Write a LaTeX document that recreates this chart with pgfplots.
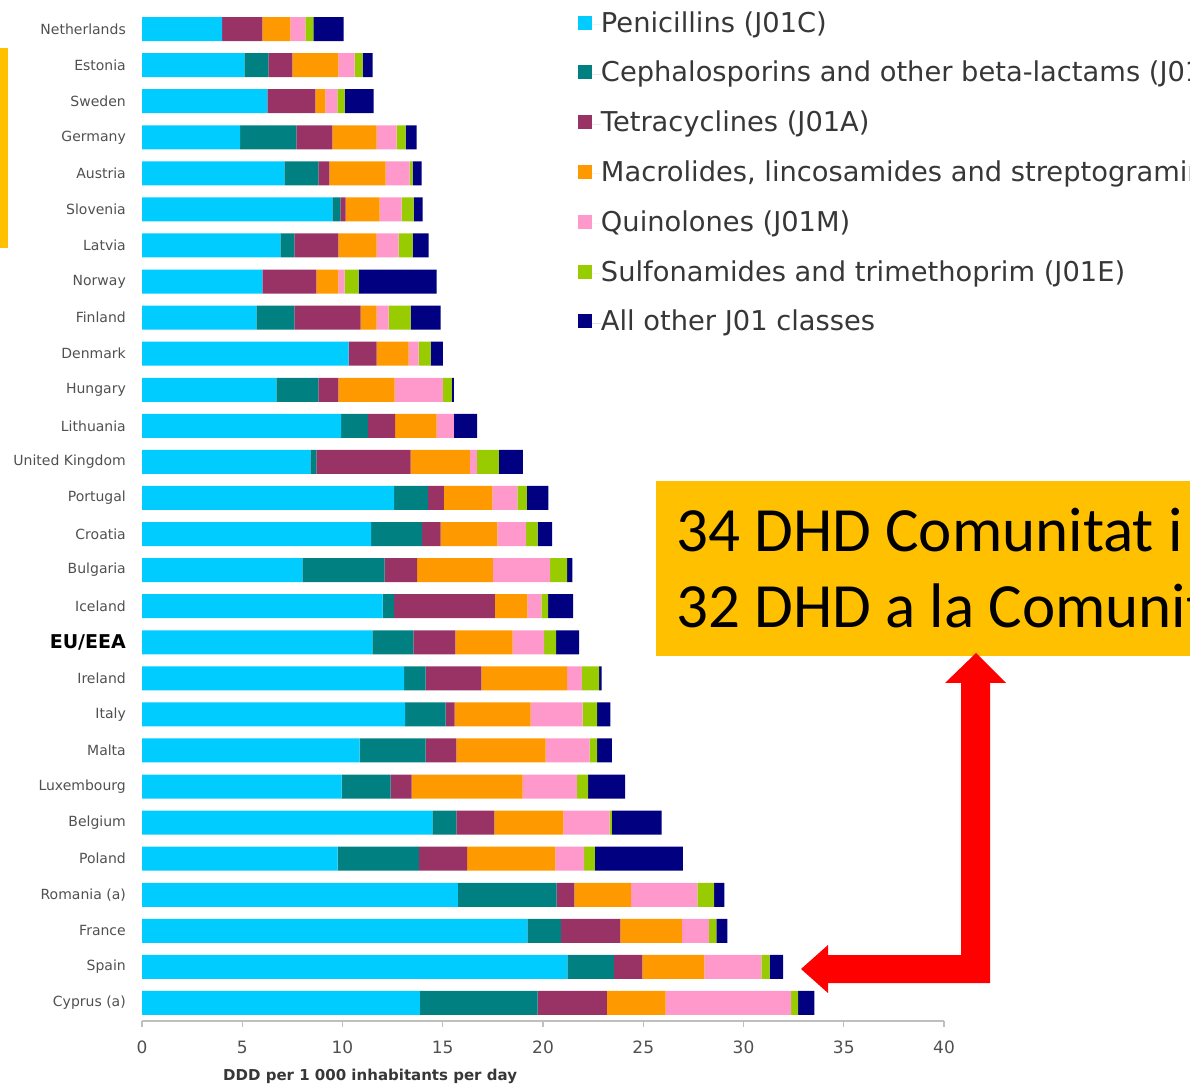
\documentclass[border=0pt]{standalone}
\usepackage{pgfplots}
\pgfplotsset{compat=1.18}
\usepackage{pgfplotstable}
\usepackage{fontspec}
\setmainfont{DejaVu Sans}
\newfontfamily\carlito{Carlito}
\definecolor{cPen}{RGB}{0,204,255}
\definecolor{cCeph}{RGB}{0,128,128}
\definecolor{cTetra}{RGB}{153,51,102}
\definecolor{cMacro}{RGB}{255,153,0}
\definecolor{cQuin}{RGB}{255,153,204}
\definecolor{cSulf}{RGB}{153,204,0}
\definecolor{cOther}{RGB}{0,0,128}
\definecolor{boxyellow}{RGB}{255,192,0}
\definecolor{labelgray}{RGB}{80,80,80}
\definecolor{leggray}{RGB}{55,55,55}
\definecolor{axgray}{RGB}{191,191,191}

\pgfplotstableread{
y pen ceph tetra macro quin sulf other
27 4.00 0.00 2.00 1.40 0.75 0.40 1.50
26 5.10 1.20 1.20 2.30 0.80 0.40 0.50
25 6.25 0.00 2.40 0.50 0.60 0.35 1.45
24 4.90 2.80 1.80 2.20 1.00 0.45 0.55
23 7.10 1.70 0.55 2.80 1.20 0.15 0.45
22 9.50 0.40 0.25 1.70 1.10 0.60 0.45
21 6.90 0.70 2.20 1.90 1.10 0.70 0.80
20 6.00 0.00 2.70 1.10 0.30 0.70 3.90
19 5.70 1.90 3.30 0.80 0.60 1.10 1.50
18 10.30 0.00 1.40 1.60 0.50 0.60 0.60
17 6.70 2.10 1.00 2.80 2.40 0.45 0.10
16 9.93 1.33 1.36 2.08 0.86 0.00 1.16
15 8.40 0.30 4.70 2.95 0.35 1.10 1.20
14 12.58 1.68 0.80 2.42 1.24 0.48 1.07
13 11.43 2.54 0.93 2.83 1.43 0.57 0.73
12 8.00 4.10 1.62 3.78 2.86 0.84 0.27
11 12.00 0.58 5.02 1.62 0.70 0.33 1.25
10 11.49 2.04 2.10 2.86 1.57 0.59 1.15
9 13.07 1.07 2.79 4.27 0.74 0.86 0.12
8 13.12 2.02 0.45 3.79 2.60 0.72 0.66
7 10.85 3.29 1.54 4.45 2.19 0.38 0.73
6 9.96 2.44 1.05 5.53 2.71 0.56 1.85
5 14.48 1.20 1.89 3.45 2.30 0.11 2.49
4 9.76 4.05 2.41 4.40 1.43 0.54 4.38
3 15.76 4.92 0.89 2.83 3.30 0.84 0.51
2 19.22 1.67 2.97 3.06 1.35 0.38 0.54
1 21.22 2.32 1.41 3.10 2.84 0.41 0.67
0 13.86 5.87 3.46 2.92 6.27 0.35 0.81
}\datatable

\begin{document}
\begin{tikzpicture}
\useasboundingbox (0pt,0pt) rectangle (1190pt,1089pt);
\begin{scope}
\clip (0pt,0pt) rectangle (1190pt,1089pt);
\fill[boxyellow] (0pt,1041pt) rectangle (8pt,841pt);
\begin{axis}[
  at={(142pt,68pt)}, anchor=south west,
  scale only axis, width=802pt, height=1010pt,
  xmin=0, xmax=40, ymin=-0.5, ymax=27.5,
  xbar stacked, bar width=24pt,
  axis x line*=bottom, axis y line*=left,
  y axis line style={draw=none},
  x axis line style={axgray, line width=1.2pt},
  xtick={0,5,...,40},
  xtick style={axgray, line width=1.2pt},
  ytick style={draw=none},
  tick align=outside,
  major tick length=6pt,
  /pgf/number format/assume math mode=true,
  xticklabel style={font=\fontsize{17}{17}\selectfont, text=labelgray, inner sep=0pt, yshift=-14pt},
  ytick={0,...,27},
  yticklabels={Cyprus (a),Spain,France,Romania (a),Poland,Belgium,Luxembourg,Malta,Italy,Ireland,{\fontsize{19}{19}\selectfont\bfseries\color{black}EU/EEA},Iceland,Bulgaria,Croatia,Portugal,United Kingdom,Lithuania,Hungary,Denmark,Finland,Norway,Latvia,Slovenia,Austria,Germany,Sweden,Estonia,Netherlands},
  yticklabel style={font=\fontsize{14}{14}\selectfont, text=labelgray, inner sep=0pt, xshift=-10pt},
  legend style={at={(axis description cs:0.5436,1.0)}, anchor=north west, draw=none, fill=none,
    inner sep=0pt, outer sep=0pt, font=\fontsize{27.3}{27.3}\selectfont, text=leggray, row sep=22.8pt,
    nodes={inner sep=0pt, text height=21pt, text depth=6pt}},
  legend cell align=left,
  legend image code/.code={\fill[#1] (0pt,-5pt) rectangle (14pt,9pt); \path (0pt,0pt) -- (23pt,0pt);},
]
\addplot[fill=cPen, draw=none] table[x=pen, y=y] {\datatable};
\addplot[fill=cCeph, draw=none] table[x=ceph, y=y] {\datatable};
\addplot[fill=cTetra, draw=none] table[x=tetra, y=y] {\datatable};
\addplot[fill=cMacro, draw=none] table[x=macro, y=y] {\datatable};
\addplot[fill=cQuin, draw=none] table[x=quin, y=y] {\datatable};
\addplot[fill=cSulf, draw=none] table[x=sulf, y=y] {\datatable};
\addplot[fill=cOther, draw=none] table[x=other, y=y] {\datatable};
\legend{Penicillins (J01C),Cephalosporins and other beta-lactams (J01D),Tetracyclines (J01A),{Macrolides, lincosamides and streptogramins (J01F)},Quinolones (J01M),Sulfonamides and trimethoprim (J01E),All other J01 classes}
\end{axis}
\node[anchor=base west, inner sep=0pt, font=\fontsize{15}{15}\selectfont\bfseries, text=leggray] at (223pt,9pt) {DDD per 1 000 inhabitants per day};
\fill[boxyellow] (656pt,608pt) rectangle (1200pt,433pt);
\node[anchor=base west, inner sep=0pt, font=\carlito\fontsize{63}{63}\selectfont] at (676pt,537pt) {34 DHD Comunitat i Hospital};
\node[anchor=base west, inner sep=0pt, font=\carlito\fontsize{63}{63}\selectfont] at (676pt,461pt) {32 DHD a la Comunitat};
\fill[red] (976pt,436pt) -- (1006pt,406pt) -- (990pt,406pt) -- (990pt,106pt) -- (828pt,106pt) -- (828pt,96pt) -- (801pt,120pt) -- (828pt,144pt) -- (828pt,134pt) -- (961pt,134pt) -- (961pt,406pt) -- (945pt,406pt) -- cycle;
\end{scope}
\end{tikzpicture}
\end{document}
